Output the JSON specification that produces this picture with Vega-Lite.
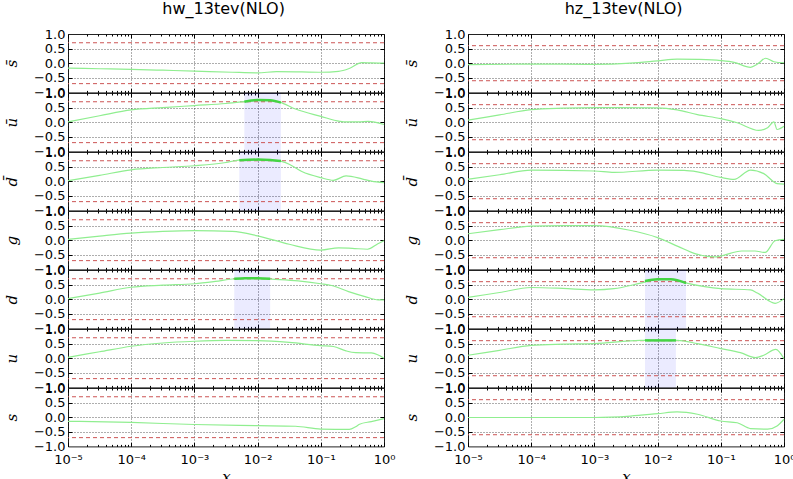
{
"$schema":"https://vega.github.io/schema/vega-lite/v6.json",
"background":"white",
"padding":{"left":3,"top":0,"right":0,"bottom":0},
"config":{"view":{"stroke":"#222","strokeWidth":1},"axis":{"labelFont":"DejaVu Sans","labelColor":"#000","titleColor":"#000","labelFontSize":13},"title":{"font":"DejaVu Sans","fontSize":16,"fontWeight":"normal","color":"#000","anchor":"middle"}},
"data":{"values":[
{"p":"hw","f":"*","k":"ref","y":0.7},{"p":"hw","f":"*","k":"ref","y":-0.7},{"p":"hz","f":"*","k":"ref","y":0.6},{"p":"hz","f":"*","k":"ref","y":-0.6},
{"p":"hw","f":"ub","k":"band","x":0.00617,"x2":0.0234},{"p":"hw","f":"db","k":"band","x":0.00513,"x2":0.0234},{"p":"hw","f":"d","k":"band","x":0.00427,"x2":0.0158},{"p":"hz","f":"d","k":"band","x":0.00631,"x2":0.0282},{"p":"hz","f":"u","k":"band","x":0.00631,"x2":0.0195},
{"p":"hw","f":"sb","k":"c","x":1e-5,"y":-0.17},{"p":"hw","f":"sb","k":"c","x":3.16e-5,"y":-0.19},{"p":"hw","f":"sb","k":"c","x":1e-4,"y":-0.21},{"p":"hw","f":"sb","k":"c","x":3.16e-4,"y":-0.24},{"p":"hw","f":"sb","k":"c","x":1e-3,"y":-0.27},{"p":"hw","f":"sb","k":"c","x":3.98e-3,"y":-0.31},{"p":"hw","f":"sb","k":"c","x":0.01,"y":-0.33},{"p":"hw","f":"sb","k":"c","x":0.02,"y":-0.29},{"p":"hw","f":"sb","k":"c","x":0.0501,"y":-0.30},{"p":"hw","f":"sb","k":"c","x":0.1,"y":-0.31},{"p":"hw","f":"sb","k":"c","x":0.191,"y":-0.28},{"p":"hw","f":"sb","k":"c","x":0.282,"y":-0.18},{"p":"hw","f":"sb","k":"c","x":0.447,"y":0.02},{"p":"hw","f":"sb","k":"c","x":0.631,"y":0.01},{"p":"hw","f":"sb","k":"c","x":1,"y":0.0},
{"p":"hw","f":"ub","k":"c","x":1e-5,"y":0.01},{"p":"hw","f":"ub","k":"c","x":3.16e-5,"y":0.22},{"p":"hw","f":"ub","k":"c","x":1e-4,"y":0.42},{"p":"hw","f":"ub","k":"c","x":3.16e-4,"y":0.50},{"p":"hw","f":"ub","k":"c","x":1e-3,"y":0.57},{"p":"hw","f":"ub","k":"c","x":3.16e-3,"y":0.64},{"p":"hw","f":"ub","k":"c","x":6.31e-3,"y":0.71},{"p":"hw","f":"ub","k":"c","x":0.01,"y":0.76},{"p":"hw","f":"ub","k":"c","x":0.0158,"y":0.75},{"p":"hw","f":"ub","k":"c","x":0.0224,"y":0.69},{"p":"hw","f":"ub","k":"c","x":0.0398,"y":0.45},{"p":"hw","f":"ub","k":"c","x":0.1,"y":0.20},{"p":"hw","f":"ub","k":"c","x":0.2,"y":0.03},{"p":"hw","f":"ub","k":"c","x":0.251,"y":0.01},{"p":"hw","f":"ub","k":"c","x":0.398,"y":0.01},{"p":"hw","f":"ub","k":"c","x":0.562,"y":0.03},{"p":"hw","f":"ub","k":"c","x":1,"y":-0.08},
{"p":"hw","f":"ub","k":"h","x":0.00617,"y":0.70},{"p":"hw","f":"ub","k":"h","x":0.00794,"y":0.74},{"p":"hw","f":"ub","k":"h","x":0.01,"y":0.76},{"p":"hw","f":"ub","k":"h","x":0.0158,"y":0.75},{"p":"hw","f":"ub","k":"h","x":0.0234,"y":0.67},
{"p":"hw","f":"db","k":"c","x":1e-5,"y":0.02},{"p":"hw","f":"db","k":"c","x":3.16e-5,"y":0.20},{"p":"hw","f":"db","k":"c","x":1e-4,"y":0.39},{"p":"hw","f":"db","k":"c","x":3.16e-4,"y":0.47},{"p":"hw","f":"db","k":"c","x":1e-3,"y":0.53},{"p":"hw","f":"db","k":"c","x":3.16e-3,"y":0.64},{"p":"hw","f":"db","k":"c","x":5.01e-3,"y":0.72},{"p":"hw","f":"db","k":"c","x":0.01,"y":0.74},{"p":"hw","f":"db","k":"c","x":0.02,"y":0.71},{"p":"hw","f":"db","k":"c","x":0.0316,"y":0.58},{"p":"hw","f":"db","k":"c","x":0.0501,"y":0.33},{"p":"hw","f":"db","k":"c","x":0.1,"y":0.12},{"p":"hw","f":"db","k":"c","x":0.158,"y":0.03},{"p":"hw","f":"db","k":"c","x":0.251,"y":0.18},{"p":"hw","f":"db","k":"c","x":0.447,"y":0.08},{"p":"hw","f":"db","k":"c","x":0.631,"y":0.0},{"p":"hw","f":"db","k":"c","x":1,"y":-0.05},
{"p":"hw","f":"db","k":"h","x":0.00513,"y":0.72},{"p":"hw","f":"db","k":"h","x":0.01,"y":0.74},{"p":"hw","f":"db","k":"h","x":0.0158,"y":0.73},{"p":"hw","f":"db","k":"h","x":0.0234,"y":0.69},
{"p":"hw","f":"g","k":"c","x":1e-5,"y":0.03},{"p":"hw","f":"g","k":"c","x":3.16e-5,"y":0.14},{"p":"hw","f":"g","k":"c","x":1e-4,"y":0.24},{"p":"hw","f":"g","k":"c","x":3.16e-4,"y":0.30},{"p":"hw","f":"g","k":"c","x":1e-3,"y":0.33},{"p":"hw","f":"g","k":"c","x":3.98e-3,"y":0.30},{"p":"hw","f":"g","k":"c","x":0.01,"y":0.15},{"p":"hw","f":"g","k":"c","x":0.0316,"y":-0.14},{"p":"hw","f":"g","k":"c","x":0.1,"y":-0.34},{"p":"hw","f":"g","k":"c","x":0.191,"y":-0.26},{"p":"hw","f":"g","k":"c","x":0.316,"y":-0.28},{"p":"hw","f":"g","k":"c","x":0.55,"y":-0.31},{"p":"hw","f":"g","k":"c","x":0.8,"y":-0.12},{"p":"hw","f":"g","k":"c","x":1,"y":-0.02},
{"p":"hw","f":"d","k":"c","x":1e-5,"y":0.02},{"p":"hw","f":"d","k":"c","x":3.16e-5,"y":0.21},{"p":"hw","f":"d","k":"c","x":1e-4,"y":0.41},{"p":"hw","f":"d","k":"c","x":3.16e-4,"y":0.48},{"p":"hw","f":"d","k":"c","x":1e-3,"y":0.53},{"p":"hw","f":"d","k":"c","x":2.14e-3,"y":0.61},{"p":"hw","f":"d","k":"c","x":4.37e-3,"y":0.70},{"p":"hw","f":"d","k":"c","x":0.01,"y":0.72},{"p":"hw","f":"d","k":"c","x":0.0166,"y":0.69},{"p":"hw","f":"d","k":"c","x":0.0437,"y":0.63},{"p":"hw","f":"d","k":"c","x":0.1,"y":0.53},{"p":"hw","f":"d","k":"c","x":0.148,"y":0.47},{"p":"hw","f":"d","k":"c","x":0.275,"y":0.26},{"p":"hw","f":"d","k":"c","x":0.501,"y":0.09},{"p":"hw","f":"d","k":"c","x":0.813,"y":-0.02},{"p":"hw","f":"d","k":"c","x":1,"y":-0.02},
{"p":"hw","f":"d","k":"h","x":0.00427,"y":0.70},{"p":"hw","f":"d","k":"h","x":0.00631,"y":0.72},{"p":"hw","f":"d","k":"h","x":0.01,"y":0.72},{"p":"hw","f":"d","k":"h","x":0.0158,"y":0.70},
{"p":"hw","f":"u","k":"c","x":1e-5,"y":0.03},{"p":"hw","f":"u","k":"c","x":3.16e-5,"y":0.22},{"p":"hw","f":"u","k":"c","x":1e-4,"y":0.41},{"p":"hw","f":"u","k":"c","x":3.16e-4,"y":0.52},{"p":"hw","f":"u","k":"c","x":1e-3,"y":0.58},{"p":"hw","f":"u","k":"c","x":3.16e-3,"y":0.61},{"p":"hw","f":"u","k":"c","x":0.01,"y":0.60},{"p":"hw","f":"u","k":"c","x":0.0316,"y":0.54},{"p":"hw","f":"u","k":"c","x":0.1,"y":0.43},{"p":"hw","f":"u","k":"c","x":0.158,"y":0.40},{"p":"hw","f":"u","k":"c","x":0.251,"y":0.25},{"p":"hw","f":"u","k":"c","x":0.355,"y":0.19},{"p":"hw","f":"u","k":"c","x":0.631,"y":0.18},{"p":"hw","f":"u","k":"c","x":0.794,"y":0.12},{"p":"hw","f":"u","k":"c","x":1,"y":0.0},
{"p":"hw","f":"s","k":"c","x":1e-5,"y":-0.14},{"p":"hw","f":"s","k":"c","x":1e-4,"y":-0.18},{"p":"hw","f":"s","k":"c","x":1e-3,"y":-0.25},{"p":"hw","f":"s","k":"c","x":0.01,"y":-0.29},{"p":"hw","f":"s","k":"c","x":0.0398,"y":-0.31},{"p":"hw","f":"s","k":"c","x":0.1,"y":-0.41},{"p":"hw","f":"s","k":"c","x":0.282,"y":-0.42},{"p":"hw","f":"s","k":"c","x":0.355,"y":-0.33},{"p":"hw","f":"s","k":"c","x":0.41,"y":-0.24},{"p":"hw","f":"s","k":"c","x":0.631,"y":-0.15},{"p":"hw","f":"s","k":"c","x":1,"y":-0.05},
{"p":"hz","f":"sb","k":"c","x":1e-5,"y":-0.05},{"p":"hz","f":"sb","k":"c","x":1e-4,"y":-0.03},{"p":"hz","f":"sb","k":"c","x":1e-3,"y":-0.04},{"p":"hz","f":"sb","k":"c","x":3.72e-3,"y":0.0},{"p":"hz","f":"sb","k":"c","x":0.01,"y":0.08},{"p":"hz","f":"sb","k":"c","x":0.0204,"y":0.14},{"p":"hz","f":"sb","k":"c","x":0.0427,"y":0.13},{"p":"hz","f":"sb","k":"c","x":0.1,"y":0.09},{"p":"hz","f":"sb","k":"c","x":0.162,"y":0.03},{"p":"hz","f":"sb","k":"c","x":0.295,"y":-0.14},{"p":"hz","f":"sb","k":"c","x":0.38,"y":-0.03},{"p":"hz","f":"sb","k":"c","x":0.513,"y":0.17},{"p":"hz","f":"sb","k":"c","x":0.692,"y":0.05},{"p":"hz","f":"sb","k":"c","x":1,"y":0.01},
{"p":"hz","f":"ub","k":"c","x":1e-5,"y":0.07},{"p":"hz","f":"ub","k":"c","x":3.16e-5,"y":0.25},{"p":"hz","f":"ub","k":"c","x":1e-4,"y":0.43},{"p":"hz","f":"ub","k":"c","x":3.16e-4,"y":0.48},{"p":"hz","f":"ub","k":"c","x":1e-3,"y":0.50},{"p":"hz","f":"ub","k":"c","x":0.01,"y":0.49},{"p":"hz","f":"ub","k":"c","x":0.0204,"y":0.42},{"p":"hz","f":"ub","k":"c","x":0.0427,"y":0.26},{"p":"hz","f":"ub","k":"c","x":0.1,"y":0.12},{"p":"hz","f":"ub","k":"c","x":0.182,"y":-0.02},{"p":"hz","f":"ub","k":"c","x":0.398,"y":-0.28},{"p":"hz","f":"ub","k":"c","x":0.55,"y":-0.19},{"p":"hz","f":"ub","k":"c","x":0.692,"y":0.01},{"p":"hz","f":"ub","k":"c","x":0.776,"y":-0.25},{"p":"hz","f":"ub","k":"c","x":1,"y":-0.14},
{"p":"hz","f":"db","k":"c","x":1e-5,"y":0.07},{"p":"hz","f":"db","k":"c","x":3.16e-5,"y":0.22},{"p":"hz","f":"db","k":"c","x":1e-4,"y":0.38},{"p":"hz","f":"db","k":"c","x":1e-3,"y":0.35},{"p":"hz","f":"db","k":"c","x":2.04e-3,"y":0.30},{"p":"hz","f":"db","k":"c","x":0.01,"y":0.38},{"p":"hz","f":"db","k":"c","x":0.0263,"y":0.37},{"p":"hz","f":"db","k":"c","x":0.0427,"y":0.32},{"p":"hz","f":"db","k":"c","x":0.1,"y":0.13},{"p":"hz","f":"db","k":"c","x":0.162,"y":0.06},{"p":"hz","f":"db","k":"c","x":0.295,"y":0.38},{"p":"hz","f":"db","k":"c","x":0.479,"y":0.26},{"p":"hz","f":"db","k":"c","x":0.776,"y":-0.08},{"p":"hz","f":"db","k":"c","x":1,"y":-0.10},
{"p":"hz","f":"g","k":"c","x":1e-5,"y":0.22},{"p":"hz","f":"g","k":"c","x":3.16e-5,"y":0.36},{"p":"hz","f":"g","k":"c","x":1e-4,"y":0.48},{"p":"hz","f":"g","k":"c","x":3.16e-4,"y":0.50},{"p":"hz","f":"g","k":"c","x":1e-3,"y":0.50},{"p":"hz","f":"g","k":"c","x":3.47e-3,"y":0.35},{"p":"hz","f":"g","k":"c","x":0.01,"y":0.09},{"p":"hz","f":"g","k":"c","x":0.0214,"y":-0.22},{"p":"hz","f":"g","k":"c","x":0.0389,"y":-0.46},{"p":"hz","f":"g","k":"c","x":0.0813,"y":-0.57},{"p":"hz","f":"g","k":"c","x":0.1,"y":-0.54},{"p":"hz","f":"g","k":"c","x":0.214,"y":-0.37},{"p":"hz","f":"g","k":"c","x":0.347,"y":-0.37},{"p":"hz","f":"g","k":"c","x":0.501,"y":-0.42},{"p":"hz","f":"g","k":"c","x":0.724,"y":-0.02},{"p":"hz","f":"g","k":"c","x":1,"y":0.03},
{"p":"hz","f":"d","k":"c","x":1e-5,"y":0.06},{"p":"hz","f":"d","k":"c","x":3.16e-5,"y":0.23},{"p":"hz","f":"d","k":"c","x":1e-4,"y":0.40},{"p":"hz","f":"d","k":"c","x":3.16e-4,"y":0.37},{"p":"hz","f":"d","k":"c","x":1e-3,"y":0.32},{"p":"hz","f":"d","k":"c","x":2.04e-3,"y":0.36},{"p":"hz","f":"d","k":"c","x":5.37e-3,"y":0.55},{"p":"hz","f":"d","k":"c","x":0.01,"y":0.68},{"p":"hz","f":"d","k":"c","x":0.0162,"y":0.68},{"p":"hz","f":"d","k":"c","x":0.0263,"y":0.57},{"p":"hz","f":"d","k":"c","x":0.1,"y":0.36},{"p":"hz","f":"d","k":"c","x":0.295,"y":0.32},{"p":"hz","f":"d","k":"c","x":0.38,"y":0.21},{"p":"hz","f":"d","k":"c","x":0.724,"y":-0.14},{"p":"hz","f":"d","k":"c","x":1,"y":0.02},
{"p":"hz","f":"d","k":"h","x":0.00631,"y":0.62},{"p":"hz","f":"d","k":"h","x":0.01,"y":0.68},{"p":"hz","f":"d","k":"h","x":0.0162,"y":0.68},{"p":"hz","f":"d","k":"h","x":0.0282,"y":0.55},
{"p":"hz","f":"u","k":"c","x":1e-5,"y":0.10},{"p":"hz","f":"u","k":"c","x":3.16e-5,"y":0.27},{"p":"hz","f":"u","k":"c","x":1e-4,"y":0.44},{"p":"hz","f":"u","k":"c","x":3.16e-4,"y":0.48},{"p":"hz","f":"u","k":"c","x":1e-3,"y":0.50},{"p":"hz","f":"u","k":"c","x":5.37e-3,"y":0.61},{"p":"hz","f":"u","k":"c","x":0.01,"y":0.61},{"p":"hz","f":"u","k":"c","x":0.0204,"y":0.61},{"p":"hz","f":"u","k":"c","x":0.0427,"y":0.50},{"p":"hz","f":"u","k":"c","x":0.1,"y":0.33},{"p":"hz","f":"u","k":"c","x":0.204,"y":0.19},{"p":"hz","f":"u","k":"c","x":0.355,"y":0.02},{"p":"hz","f":"u","k":"c","x":0.479,"y":0.10},{"p":"hz","f":"u","k":"c","x":0.741,"y":0.30},{"p":"hz","f":"u","k":"c","x":1,"y":-0.02},
{"p":"hz","f":"u","k":"h","x":0.00631,"y":0.61},{"p":"hz","f":"u","k":"h","x":0.01,"y":0.61},{"p":"hz","f":"u","k":"h","x":0.0195,"y":0.61},
{"p":"hz","f":"s","k":"c","x":1e-5,"y":-0.01},{"p":"hz","f":"s","k":"c","x":1e-4,"y":-0.01},{"p":"hz","f":"s","k":"c","x":1e-3,"y":-0.01},{"p":"hz","f":"s","k":"c","x":3.72e-3,"y":0.04},{"p":"hz","f":"s","k":"c","x":0.01,"y":0.12},{"p":"hz","f":"s","k":"c","x":0.0204,"y":0.18},{"p":"hz","f":"s","k":"c","x":0.0427,"y":0.10},{"p":"hz","f":"s","k":"c","x":0.1,"y":-0.13},{"p":"hz","f":"s","k":"c","x":0.182,"y":-0.19},{"p":"hz","f":"s","k":"c","x":0.295,"y":-0.39},{"p":"hz","f":"s","k":"c","x":0.55,"y":-0.41},{"p":"hz","f":"s","k":"c","x":0.776,"y":-0.30},{"p":"hz","f":"s","k":"c","x":1,"y":-0.07}
]},
"spacing":7,
"hconcat":[
{"title":{"text":"hw_13tev(NLO)","frame":"bounds","anchor":"middle","dx":24,"offset":11},"spacing":0,"bounds":"flush","vconcat":[
{"width":316,"height":58.4,"transform":[{"filter":"datum.p=='hw'&&(datum.f=='sb'||datum.f=='*')"}],"resolve":{"axis":{"x":"independent","y":"independent"}},"layer":[
{"transform":[{"filter":"datum.k=='band'"}],"mark":{"type":"rect","color":"#0000ff","opacity":0.08},"encoding":{"x":{"field":"x","type":"quantitative","scale":{"type":"log","domain":[1e-5,1],"nice":false},"axis":{"orient":"top","values":[1e-5,2e-5,3e-5,4e-5,5e-5,6e-5,7e-5,8e-5,9e-5,1e-4,2e-4,3e-4,4e-4,5e-4,6e-4,7e-4,8e-4,9e-4,1e-3,2e-3,3e-3,4e-3,5e-3,6e-3,7e-3,8e-3,9e-3,0.01,0.02,0.03,0.04,0.05,0.06,0.07,0.08,0.09,0.1,0.2,0.3,0.4,0.5,0.6,0.7,0.8,0.9,1],"labels":false,"title":null,"domain":false,"grid":false,"tickColor":"#000","tickSize":{"condition":{"test":"abs(log(datum.value)/LN10-round(log(datum.value)/LN10))<0.001","value":-4},"value":-2}}},"x2":{"field":"x2"}}},
{"transform":[{"filter":"datum.k=='ref'"}],"mark":{"type":"rule","color":"#cc5555","strokeDash":[4,3],"strokeWidth":1},"encoding":{"y":{"field":"y","type":"quantitative","scale":{"domain":[-1,1],"nice":false,"zero":false},"axis":{"orient":"right","values":[-0.5,0,0.5],"labels":false,"title":null,"domain":false,"grid":false,"tickColor":"#000","tickSize":-4}}}},
{"transform":[{"filter":"datum.k=='c'"}],"mark":{"type":"line","color":"#90ee90","strokeWidth":1.2,"interpolate":"monotone"},"encoding":{"x":{"field":"x","type":"quantitative","scale":{"type":"log","domain":[1e-5,1],"nice":false},"axis":{"orient":"bottom","values":[1e-5,2e-5,3e-5,4e-5,5e-5,6e-5,7e-5,8e-5,9e-5,1e-4,2e-4,3e-4,4e-4,5e-4,6e-4,7e-4,8e-4,9e-4,1e-3,2e-3,3e-3,4e-3,5e-3,6e-3,7e-3,8e-3,9e-3,0.01,0.02,0.03,0.04,0.05,0.06,0.07,0.08,0.09,0.1,0.2,0.3,0.4,0.5,0.6,0.7,0.8,0.9,1],"labels":false,"title":null,"domain":false,"tickColor":"#000","tickSize":{"condition":{"test":"abs(log(datum.value)/LN10-round(log(datum.value)/LN10))<0.001","value":-4},"value":-2},"grid":true,"gridColor":"#000","gridDash":[1,2],"gridWidth":0.8,"gridOpacity":{"condition":{"test":"abs(log(datum.value)/LN10-round(log(datum.value)/LN10))<0.001","value":0.8},"value":0}}},"y":{"field":"y","type":"quantitative","scale":{"domain":[-1,1],"nice":false,"zero":false},"axis":{"values":[-1,-0.5,0,0.5,1],"format":".1f","labelOverlap":false,"labelFlush":false,"labelPadding":7,"domain":false,"tickColor":"#000","tickSize":-4,"tickOpacity":{"condition":{"test":"abs(datum.value)<0.9","value":1},"value":0},"grid":true,"gridColor":"#000","gridDash":[1,2],"gridWidth":0.8,"gridOpacity":{"condition":{"test":"abs(datum.value)<0.9","value":0.8},"value":0},"title":"s̄","titleFont":"DejaVu Serif","titleFontStyle":"italic","titleFontWeight":"normal","titleFontSize":15,"titlePadding":14}}}},
{"transform":[{"filter":"datum.k=='h'"}],"mark":{"type":"line","color":"#44d444","strokeWidth":2.5,"interpolate":"monotone"},"encoding":{"x":{"field":"x","type":"quantitative","scale":{"type":"log","domain":[1e-5,1],"nice":false},"axis":null},"y":{"field":"y","type":"quantitative","scale":{"domain":[-1,1],"nice":false,"zero":false},"axis":null}}}
]},
{"width":316,"height":58.4,"transform":[{"filter":"datum.p=='hw'&&(datum.f=='ub'||datum.f=='*')"}],"resolve":{"axis":{"x":"independent","y":"independent"}},"layer":[
{"transform":[{"filter":"datum.k=='band'"}],"mark":{"type":"rect","color":"#0000ff","opacity":0.08},"encoding":{"x":{"field":"x","type":"quantitative","scale":{"type":"log","domain":[1e-5,1],"nice":false},"axis":{"orient":"top","values":[1e-5,2e-5,3e-5,4e-5,5e-5,6e-5,7e-5,8e-5,9e-5,1e-4,2e-4,3e-4,4e-4,5e-4,6e-4,7e-4,8e-4,9e-4,1e-3,2e-3,3e-3,4e-3,5e-3,6e-3,7e-3,8e-3,9e-3,0.01,0.02,0.03,0.04,0.05,0.06,0.07,0.08,0.09,0.1,0.2,0.3,0.4,0.5,0.6,0.7,0.8,0.9,1],"labels":false,"title":null,"domain":false,"grid":false,"tickColor":"#000","tickSize":{"condition":{"test":"abs(log(datum.value)/LN10-round(log(datum.value)/LN10))<0.001","value":-4},"value":-2}}},"x2":{"field":"x2"}}},
{"transform":[{"filter":"datum.k=='ref'"}],"mark":{"type":"rule","color":"#cc5555","strokeDash":[4,3],"strokeWidth":1},"encoding":{"y":{"field":"y","type":"quantitative","scale":{"domain":[-1,1],"nice":false,"zero":false},"axis":{"orient":"right","values":[-0.5,0,0.5],"labels":false,"title":null,"domain":false,"grid":false,"tickColor":"#000","tickSize":-4}}}},
{"transform":[{"filter":"datum.k=='c'"}],"mark":{"type":"line","color":"#90ee90","strokeWidth":1.2,"interpolate":"monotone"},"encoding":{"x":{"field":"x","type":"quantitative","scale":{"type":"log","domain":[1e-5,1],"nice":false},"axis":{"orient":"bottom","values":[1e-5,2e-5,3e-5,4e-5,5e-5,6e-5,7e-5,8e-5,9e-5,1e-4,2e-4,3e-4,4e-4,5e-4,6e-4,7e-4,8e-4,9e-4,1e-3,2e-3,3e-3,4e-3,5e-3,6e-3,7e-3,8e-3,9e-3,0.01,0.02,0.03,0.04,0.05,0.06,0.07,0.08,0.09,0.1,0.2,0.3,0.4,0.5,0.6,0.7,0.8,0.9,1],"labels":false,"title":null,"domain":false,"tickColor":"#000","tickSize":{"condition":{"test":"abs(log(datum.value)/LN10-round(log(datum.value)/LN10))<0.001","value":-4},"value":-2},"grid":true,"gridColor":"#000","gridDash":[1,2],"gridWidth":0.8,"gridOpacity":{"condition":{"test":"abs(log(datum.value)/LN10-round(log(datum.value)/LN10))<0.001","value":0.8},"value":0}}},"y":{"field":"y","type":"quantitative","scale":{"domain":[-1,1],"nice":false,"zero":false},"axis":{"values":[-1,-0.5,0,0.5,1],"format":".1f","labelOverlap":false,"labelFlush":false,"labelPadding":7,"domain":false,"tickColor":"#000","tickSize":-4,"tickOpacity":{"condition":{"test":"abs(datum.value)<0.9","value":1},"value":0},"grid":true,"gridColor":"#000","gridDash":[1,2],"gridWidth":0.8,"gridOpacity":{"condition":{"test":"abs(datum.value)<0.9","value":0.8},"value":0},"title":"ū","titleFont":"DejaVu Serif","titleFontStyle":"italic","titleFontWeight":"normal","titleFontSize":15,"titlePadding":14}}}},
{"transform":[{"filter":"datum.k=='h'"}],"mark":{"type":"line","color":"#44d444","strokeWidth":2.5,"interpolate":"monotone"},"encoding":{"x":{"field":"x","type":"quantitative","scale":{"type":"log","domain":[1e-5,1],"nice":false},"axis":null},"y":{"field":"y","type":"quantitative","scale":{"domain":[-1,1],"nice":false,"zero":false},"axis":null}}}
]},
{"width":316,"height":58.4,"transform":[{"filter":"datum.p=='hw'&&(datum.f=='db'||datum.f=='*')"}],"resolve":{"axis":{"x":"independent","y":"independent"}},"layer":[
{"transform":[{"filter":"datum.k=='band'"}],"mark":{"type":"rect","color":"#0000ff","opacity":0.08},"encoding":{"x":{"field":"x","type":"quantitative","scale":{"type":"log","domain":[1e-5,1],"nice":false},"axis":{"orient":"top","values":[1e-5,2e-5,3e-5,4e-5,5e-5,6e-5,7e-5,8e-5,9e-5,1e-4,2e-4,3e-4,4e-4,5e-4,6e-4,7e-4,8e-4,9e-4,1e-3,2e-3,3e-3,4e-3,5e-3,6e-3,7e-3,8e-3,9e-3,0.01,0.02,0.03,0.04,0.05,0.06,0.07,0.08,0.09,0.1,0.2,0.3,0.4,0.5,0.6,0.7,0.8,0.9,1],"labels":false,"title":null,"domain":false,"grid":false,"tickColor":"#000","tickSize":{"condition":{"test":"abs(log(datum.value)/LN10-round(log(datum.value)/LN10))<0.001","value":-4},"value":-2}}},"x2":{"field":"x2"}}},
{"transform":[{"filter":"datum.k=='ref'"}],"mark":{"type":"rule","color":"#cc5555","strokeDash":[4,3],"strokeWidth":1},"encoding":{"y":{"field":"y","type":"quantitative","scale":{"domain":[-1,1],"nice":false,"zero":false},"axis":{"orient":"right","values":[-0.5,0,0.5],"labels":false,"title":null,"domain":false,"grid":false,"tickColor":"#000","tickSize":-4}}}},
{"transform":[{"filter":"datum.k=='c'"}],"mark":{"type":"line","color":"#90ee90","strokeWidth":1.2,"interpolate":"monotone"},"encoding":{"x":{"field":"x","type":"quantitative","scale":{"type":"log","domain":[1e-5,1],"nice":false},"axis":{"orient":"bottom","values":[1e-5,2e-5,3e-5,4e-5,5e-5,6e-5,7e-5,8e-5,9e-5,1e-4,2e-4,3e-4,4e-4,5e-4,6e-4,7e-4,8e-4,9e-4,1e-3,2e-3,3e-3,4e-3,5e-3,6e-3,7e-3,8e-3,9e-3,0.01,0.02,0.03,0.04,0.05,0.06,0.07,0.08,0.09,0.1,0.2,0.3,0.4,0.5,0.6,0.7,0.8,0.9,1],"labels":false,"title":null,"domain":false,"tickColor":"#000","tickSize":{"condition":{"test":"abs(log(datum.value)/LN10-round(log(datum.value)/LN10))<0.001","value":-4},"value":-2},"grid":true,"gridColor":"#000","gridDash":[1,2],"gridWidth":0.8,"gridOpacity":{"condition":{"test":"abs(log(datum.value)/LN10-round(log(datum.value)/LN10))<0.001","value":0.8},"value":0}}},"y":{"field":"y","type":"quantitative","scale":{"domain":[-1,1],"nice":false,"zero":false},"axis":{"values":[-1,-0.5,0,0.5,1],"format":".1f","labelOverlap":false,"labelFlush":false,"labelPadding":7,"domain":false,"tickColor":"#000","tickSize":-4,"tickOpacity":{"condition":{"test":"abs(datum.value)<0.9","value":1},"value":0},"grid":true,"gridColor":"#000","gridDash":[1,2],"gridWidth":0.8,"gridOpacity":{"condition":{"test":"abs(datum.value)<0.9","value":0.8},"value":0},"title":"d̄","titleFont":"DejaVu Serif","titleFontStyle":"italic","titleFontWeight":"normal","titleFontSize":15,"titlePadding":14}}}},
{"transform":[{"filter":"datum.k=='h'"}],"mark":{"type":"line","color":"#44d444","strokeWidth":2.5,"interpolate":"monotone"},"encoding":{"x":{"field":"x","type":"quantitative","scale":{"type":"log","domain":[1e-5,1],"nice":false},"axis":null},"y":{"field":"y","type":"quantitative","scale":{"domain":[-1,1],"nice":false,"zero":false},"axis":null}}}
]},
{"width":316,"height":58.4,"transform":[{"filter":"datum.p=='hw'&&(datum.f=='g'||datum.f=='*')"}],"resolve":{"axis":{"x":"independent","y":"independent"}},"layer":[
{"transform":[{"filter":"datum.k=='band'"}],"mark":{"type":"rect","color":"#0000ff","opacity":0.08},"encoding":{"x":{"field":"x","type":"quantitative","scale":{"type":"log","domain":[1e-5,1],"nice":false},"axis":{"orient":"top","values":[1e-5,2e-5,3e-5,4e-5,5e-5,6e-5,7e-5,8e-5,9e-5,1e-4,2e-4,3e-4,4e-4,5e-4,6e-4,7e-4,8e-4,9e-4,1e-3,2e-3,3e-3,4e-3,5e-3,6e-3,7e-3,8e-3,9e-3,0.01,0.02,0.03,0.04,0.05,0.06,0.07,0.08,0.09,0.1,0.2,0.3,0.4,0.5,0.6,0.7,0.8,0.9,1],"labels":false,"title":null,"domain":false,"grid":false,"tickColor":"#000","tickSize":{"condition":{"test":"abs(log(datum.value)/LN10-round(log(datum.value)/LN10))<0.001","value":-4},"value":-2}}},"x2":{"field":"x2"}}},
{"transform":[{"filter":"datum.k=='ref'"}],"mark":{"type":"rule","color":"#cc5555","strokeDash":[4,3],"strokeWidth":1},"encoding":{"y":{"field":"y","type":"quantitative","scale":{"domain":[-1,1],"nice":false,"zero":false},"axis":{"orient":"right","values":[-0.5,0,0.5],"labels":false,"title":null,"domain":false,"grid":false,"tickColor":"#000","tickSize":-4}}}},
{"transform":[{"filter":"datum.k=='c'"}],"mark":{"type":"line","color":"#90ee90","strokeWidth":1.2,"interpolate":"monotone"},"encoding":{"x":{"field":"x","type":"quantitative","scale":{"type":"log","domain":[1e-5,1],"nice":false},"axis":{"orient":"bottom","values":[1e-5,2e-5,3e-5,4e-5,5e-5,6e-5,7e-5,8e-5,9e-5,1e-4,2e-4,3e-4,4e-4,5e-4,6e-4,7e-4,8e-4,9e-4,1e-3,2e-3,3e-3,4e-3,5e-3,6e-3,7e-3,8e-3,9e-3,0.01,0.02,0.03,0.04,0.05,0.06,0.07,0.08,0.09,0.1,0.2,0.3,0.4,0.5,0.6,0.7,0.8,0.9,1],"labels":false,"title":null,"domain":false,"tickColor":"#000","tickSize":{"condition":{"test":"abs(log(datum.value)/LN10-round(log(datum.value)/LN10))<0.001","value":-4},"value":-2},"grid":true,"gridColor":"#000","gridDash":[1,2],"gridWidth":0.8,"gridOpacity":{"condition":{"test":"abs(log(datum.value)/LN10-round(log(datum.value)/LN10))<0.001","value":0.8},"value":0}}},"y":{"field":"y","type":"quantitative","scale":{"domain":[-1,1],"nice":false,"zero":false},"axis":{"values":[-1,-0.5,0,0.5,1],"format":".1f","labelOverlap":false,"labelFlush":false,"labelPadding":7,"domain":false,"tickColor":"#000","tickSize":-4,"tickOpacity":{"condition":{"test":"abs(datum.value)<0.9","value":1},"value":0},"grid":true,"gridColor":"#000","gridDash":[1,2],"gridWidth":0.8,"gridOpacity":{"condition":{"test":"abs(datum.value)<0.9","value":0.8},"value":0},"title":"g","titleFont":"DejaVu Serif","titleFontStyle":"italic","titleFontWeight":"normal","titleFontSize":15,"titlePadding":14}}}},
{"transform":[{"filter":"datum.k=='h'"}],"mark":{"type":"line","color":"#44d444","strokeWidth":2.5,"interpolate":"monotone"},"encoding":{"x":{"field":"x","type":"quantitative","scale":{"type":"log","domain":[1e-5,1],"nice":false},"axis":null},"y":{"field":"y","type":"quantitative","scale":{"domain":[-1,1],"nice":false,"zero":false},"axis":null}}}
]},
{"width":316,"height":58.4,"transform":[{"filter":"datum.p=='hw'&&(datum.f=='d'||datum.f=='*')"}],"resolve":{"axis":{"x":"independent","y":"independent"}},"layer":[
{"transform":[{"filter":"datum.k=='band'"}],"mark":{"type":"rect","color":"#0000ff","opacity":0.08},"encoding":{"x":{"field":"x","type":"quantitative","scale":{"type":"log","domain":[1e-5,1],"nice":false},"axis":{"orient":"top","values":[1e-5,2e-5,3e-5,4e-5,5e-5,6e-5,7e-5,8e-5,9e-5,1e-4,2e-4,3e-4,4e-4,5e-4,6e-4,7e-4,8e-4,9e-4,1e-3,2e-3,3e-3,4e-3,5e-3,6e-3,7e-3,8e-3,9e-3,0.01,0.02,0.03,0.04,0.05,0.06,0.07,0.08,0.09,0.1,0.2,0.3,0.4,0.5,0.6,0.7,0.8,0.9,1],"labels":false,"title":null,"domain":false,"grid":false,"tickColor":"#000","tickSize":{"condition":{"test":"abs(log(datum.value)/LN10-round(log(datum.value)/LN10))<0.001","value":-4},"value":-2}}},"x2":{"field":"x2"}}},
{"transform":[{"filter":"datum.k=='ref'"}],"mark":{"type":"rule","color":"#cc5555","strokeDash":[4,3],"strokeWidth":1},"encoding":{"y":{"field":"y","type":"quantitative","scale":{"domain":[-1,1],"nice":false,"zero":false},"axis":{"orient":"right","values":[-0.5,0,0.5],"labels":false,"title":null,"domain":false,"grid":false,"tickColor":"#000","tickSize":-4}}}},
{"transform":[{"filter":"datum.k=='c'"}],"mark":{"type":"line","color":"#90ee90","strokeWidth":1.2,"interpolate":"monotone"},"encoding":{"x":{"field":"x","type":"quantitative","scale":{"type":"log","domain":[1e-5,1],"nice":false},"axis":{"orient":"bottom","values":[1e-5,2e-5,3e-5,4e-5,5e-5,6e-5,7e-5,8e-5,9e-5,1e-4,2e-4,3e-4,4e-4,5e-4,6e-4,7e-4,8e-4,9e-4,1e-3,2e-3,3e-3,4e-3,5e-3,6e-3,7e-3,8e-3,9e-3,0.01,0.02,0.03,0.04,0.05,0.06,0.07,0.08,0.09,0.1,0.2,0.3,0.4,0.5,0.6,0.7,0.8,0.9,1],"labels":false,"title":null,"domain":false,"tickColor":"#000","tickSize":{"condition":{"test":"abs(log(datum.value)/LN10-round(log(datum.value)/LN10))<0.001","value":-4},"value":-2},"grid":true,"gridColor":"#000","gridDash":[1,2],"gridWidth":0.8,"gridOpacity":{"condition":{"test":"abs(log(datum.value)/LN10-round(log(datum.value)/LN10))<0.001","value":0.8},"value":0}}},"y":{"field":"y","type":"quantitative","scale":{"domain":[-1,1],"nice":false,"zero":false},"axis":{"values":[-1,-0.5,0,0.5,1],"format":".1f","labelOverlap":false,"labelFlush":false,"labelPadding":7,"domain":false,"tickColor":"#000","tickSize":-4,"tickOpacity":{"condition":{"test":"abs(datum.value)<0.9","value":1},"value":0},"grid":true,"gridColor":"#000","gridDash":[1,2],"gridWidth":0.8,"gridOpacity":{"condition":{"test":"abs(datum.value)<0.9","value":0.8},"value":0},"title":"d","titleFont":"DejaVu Serif","titleFontStyle":"italic","titleFontWeight":"normal","titleFontSize":15,"titlePadding":14}}}},
{"transform":[{"filter":"datum.k=='h'"}],"mark":{"type":"line","color":"#44d444","strokeWidth":2.5,"interpolate":"monotone"},"encoding":{"x":{"field":"x","type":"quantitative","scale":{"type":"log","domain":[1e-5,1],"nice":false},"axis":null},"y":{"field":"y","type":"quantitative","scale":{"domain":[-1,1],"nice":false,"zero":false},"axis":null}}}
]},
{"width":316,"height":58.4,"transform":[{"filter":"datum.p=='hw'&&(datum.f=='u'||datum.f=='*')"}],"resolve":{"axis":{"x":"independent","y":"independent"}},"layer":[
{"transform":[{"filter":"datum.k=='band'"}],"mark":{"type":"rect","color":"#0000ff","opacity":0.08},"encoding":{"x":{"field":"x","type":"quantitative","scale":{"type":"log","domain":[1e-5,1],"nice":false},"axis":{"orient":"top","values":[1e-5,2e-5,3e-5,4e-5,5e-5,6e-5,7e-5,8e-5,9e-5,1e-4,2e-4,3e-4,4e-4,5e-4,6e-4,7e-4,8e-4,9e-4,1e-3,2e-3,3e-3,4e-3,5e-3,6e-3,7e-3,8e-3,9e-3,0.01,0.02,0.03,0.04,0.05,0.06,0.07,0.08,0.09,0.1,0.2,0.3,0.4,0.5,0.6,0.7,0.8,0.9,1],"labels":false,"title":null,"domain":false,"grid":false,"tickColor":"#000","tickSize":{"condition":{"test":"abs(log(datum.value)/LN10-round(log(datum.value)/LN10))<0.001","value":-4},"value":-2}}},"x2":{"field":"x2"}}},
{"transform":[{"filter":"datum.k=='ref'"}],"mark":{"type":"rule","color":"#cc5555","strokeDash":[4,3],"strokeWidth":1},"encoding":{"y":{"field":"y","type":"quantitative","scale":{"domain":[-1,1],"nice":false,"zero":false},"axis":{"orient":"right","values":[-0.5,0,0.5],"labels":false,"title":null,"domain":false,"grid":false,"tickColor":"#000","tickSize":-4}}}},
{"transform":[{"filter":"datum.k=='c'"}],"mark":{"type":"line","color":"#90ee90","strokeWidth":1.2,"interpolate":"monotone"},"encoding":{"x":{"field":"x","type":"quantitative","scale":{"type":"log","domain":[1e-5,1],"nice":false},"axis":{"orient":"bottom","values":[1e-5,2e-5,3e-5,4e-5,5e-5,6e-5,7e-5,8e-5,9e-5,1e-4,2e-4,3e-4,4e-4,5e-4,6e-4,7e-4,8e-4,9e-4,1e-3,2e-3,3e-3,4e-3,5e-3,6e-3,7e-3,8e-3,9e-3,0.01,0.02,0.03,0.04,0.05,0.06,0.07,0.08,0.09,0.1,0.2,0.3,0.4,0.5,0.6,0.7,0.8,0.9,1],"labels":false,"title":null,"domain":false,"tickColor":"#000","tickSize":{"condition":{"test":"abs(log(datum.value)/LN10-round(log(datum.value)/LN10))<0.001","value":-4},"value":-2},"grid":true,"gridColor":"#000","gridDash":[1,2],"gridWidth":0.8,"gridOpacity":{"condition":{"test":"abs(log(datum.value)/LN10-round(log(datum.value)/LN10))<0.001","value":0.8},"value":0}}},"y":{"field":"y","type":"quantitative","scale":{"domain":[-1,1],"nice":false,"zero":false},"axis":{"values":[-1,-0.5,0,0.5,1],"format":".1f","labelOverlap":false,"labelFlush":false,"labelPadding":7,"domain":false,"tickColor":"#000","tickSize":-4,"tickOpacity":{"condition":{"test":"abs(datum.value)<0.9","value":1},"value":0},"grid":true,"gridColor":"#000","gridDash":[1,2],"gridWidth":0.8,"gridOpacity":{"condition":{"test":"abs(datum.value)<0.9","value":0.8},"value":0},"title":"u","titleFont":"DejaVu Serif","titleFontStyle":"italic","titleFontWeight":"normal","titleFontSize":15,"titlePadding":14}}}},
{"transform":[{"filter":"datum.k=='h'"}],"mark":{"type":"line","color":"#44d444","strokeWidth":2.5,"interpolate":"monotone"},"encoding":{"x":{"field":"x","type":"quantitative","scale":{"type":"log","domain":[1e-5,1],"nice":false},"axis":null},"y":{"field":"y","type":"quantitative","scale":{"domain":[-1,1],"nice":false,"zero":false},"axis":null}}}
]},
{"width":316,"height":58.4,"transform":[{"filter":"datum.p=='hw'&&(datum.f=='s'||datum.f=='*')"}],"resolve":{"axis":{"x":"independent","y":"independent"}},"layer":[
{"transform":[{"filter":"datum.k=='band'"}],"mark":{"type":"rect","color":"#0000ff","opacity":0.08},"encoding":{"x":{"field":"x","type":"quantitative","scale":{"type":"log","domain":[1e-5,1],"nice":false},"axis":{"orient":"top","values":[1e-5,2e-5,3e-5,4e-5,5e-5,6e-5,7e-5,8e-5,9e-5,1e-4,2e-4,3e-4,4e-4,5e-4,6e-4,7e-4,8e-4,9e-4,1e-3,2e-3,3e-3,4e-3,5e-3,6e-3,7e-3,8e-3,9e-3,0.01,0.02,0.03,0.04,0.05,0.06,0.07,0.08,0.09,0.1,0.2,0.3,0.4,0.5,0.6,0.7,0.8,0.9,1],"labels":false,"title":null,"domain":false,"grid":false,"tickColor":"#000","tickSize":{"condition":{"test":"abs(log(datum.value)/LN10-round(log(datum.value)/LN10))<0.001","value":-4},"value":-2}}},"x2":{"field":"x2"}}},
{"transform":[{"filter":"datum.k=='ref'"}],"mark":{"type":"rule","color":"#cc5555","strokeDash":[4,3],"strokeWidth":1},"encoding":{"y":{"field":"y","type":"quantitative","scale":{"domain":[-1,1],"nice":false,"zero":false},"axis":{"orient":"right","values":[-0.5,0,0.5],"labels":false,"title":null,"domain":false,"grid":false,"tickColor":"#000","tickSize":-4}}}},
{"transform":[{"filter":"datum.k=='c'"}],"mark":{"type":"line","color":"#90ee90","strokeWidth":1.2,"interpolate":"monotone"},"encoding":{"x":{"field":"x","type":"quantitative","scale":{"type":"log","domain":[1e-5,1],"nice":false},"axis":{"orient":"bottom","values":[1e-5,2e-5,3e-5,4e-5,5e-5,6e-5,7e-5,8e-5,9e-5,1e-4,2e-4,3e-4,4e-4,5e-4,6e-4,7e-4,8e-4,9e-4,1e-3,2e-3,3e-3,4e-3,5e-3,6e-3,7e-3,8e-3,9e-3,0.01,0.02,0.03,0.04,0.05,0.06,0.07,0.08,0.09,0.1,0.2,0.3,0.4,0.5,0.6,0.7,0.8,0.9,1],"labels":true,"labelExpr":"abs(log(datum.value)/LN10-round(log(datum.value)/LN10))<0.001 ? '10'+['⁻⁵','⁻⁴','⁻³','⁻²','⁻¹','⁰'][round(log(datum.value)/LN10)+5] : ''","labelFlush":false,"labelOverlap":false,"labelPadding":11,"title":"x","titleFont":"DejaVu Serif","titleFontStyle":"italic","titleFontWeight":"normal","titleFontSize":15,"titlePadding":1,"domain":false,"tickColor":"#000","tickSize":{"condition":{"test":"abs(log(datum.value)/LN10-round(log(datum.value)/LN10))<0.001","value":-4},"value":-2},"grid":true,"gridColor":"#000","gridDash":[1,2],"gridWidth":0.8,"gridOpacity":{"condition":{"test":"abs(log(datum.value)/LN10-round(log(datum.value)/LN10))<0.001","value":0.8},"value":0}}},"y":{"field":"y","type":"quantitative","scale":{"domain":[-1,1],"nice":false,"zero":false},"axis":{"values":[-1,-0.5,0,0.5,1],"format":".1f","labelOverlap":false,"labelFlush":false,"labelPadding":7,"domain":false,"tickColor":"#000","tickSize":-4,"tickOpacity":{"condition":{"test":"abs(datum.value)<0.9","value":1},"value":0},"grid":true,"gridColor":"#000","gridDash":[1,2],"gridWidth":0.8,"gridOpacity":{"condition":{"test":"abs(datum.value)<0.9","value":0.8},"value":0},"title":"s","titleFont":"DejaVu Serif","titleFontStyle":"italic","titleFontWeight":"normal","titleFontSize":15,"titlePadding":14}}}},
{"transform":[{"filter":"datum.k=='h'"}],"mark":{"type":"line","color":"#44d444","strokeWidth":2.5,"interpolate":"monotone"},"encoding":{"x":{"field":"x","type":"quantitative","scale":{"type":"log","domain":[1e-5,1],"nice":false},"axis":null},"y":{"field":"y","type":"quantitative","scale":{"domain":[-1,1],"nice":false,"zero":false},"axis":null}}}
]}
]},
{"title":{"text":"hz_13tev(NLO)","frame":"bounds","anchor":"middle","dx":24,"offset":11},"spacing":0,"bounds":"flush","vconcat":[
{"width":316,"height":58.4,"transform":[{"filter":"datum.p=='hz'&&(datum.f=='sb'||datum.f=='*')"}],"resolve":{"axis":{"x":"independent","y":"independent"}},"layer":[
{"transform":[{"filter":"datum.k=='band'"}],"mark":{"type":"rect","color":"#0000ff","opacity":0.08},"encoding":{"x":{"field":"x","type":"quantitative","scale":{"type":"log","domain":[1e-5,1],"nice":false},"axis":{"orient":"top","values":[1e-5,2e-5,3e-5,4e-5,5e-5,6e-5,7e-5,8e-5,9e-5,1e-4,2e-4,3e-4,4e-4,5e-4,6e-4,7e-4,8e-4,9e-4,1e-3,2e-3,3e-3,4e-3,5e-3,6e-3,7e-3,8e-3,9e-3,0.01,0.02,0.03,0.04,0.05,0.06,0.07,0.08,0.09,0.1,0.2,0.3,0.4,0.5,0.6,0.7,0.8,0.9,1],"labels":false,"title":null,"domain":false,"grid":false,"tickColor":"#000","tickSize":{"condition":{"test":"abs(log(datum.value)/LN10-round(log(datum.value)/LN10))<0.001","value":-4},"value":-2}}},"x2":{"field":"x2"}}},
{"transform":[{"filter":"datum.k=='ref'"}],"mark":{"type":"rule","color":"#cc5555","strokeDash":[4,3],"strokeWidth":1},"encoding":{"y":{"field":"y","type":"quantitative","scale":{"domain":[-1,1],"nice":false,"zero":false},"axis":{"orient":"right","values":[-0.5,0,0.5],"labels":false,"title":null,"domain":false,"grid":false,"tickColor":"#000","tickSize":-4}}}},
{"transform":[{"filter":"datum.k=='c'"}],"mark":{"type":"line","color":"#90ee90","strokeWidth":1.2,"interpolate":"monotone"},"encoding":{"x":{"field":"x","type":"quantitative","scale":{"type":"log","domain":[1e-5,1],"nice":false},"axis":{"orient":"bottom","values":[1e-5,2e-5,3e-5,4e-5,5e-5,6e-5,7e-5,8e-5,9e-5,1e-4,2e-4,3e-4,4e-4,5e-4,6e-4,7e-4,8e-4,9e-4,1e-3,2e-3,3e-3,4e-3,5e-3,6e-3,7e-3,8e-3,9e-3,0.01,0.02,0.03,0.04,0.05,0.06,0.07,0.08,0.09,0.1,0.2,0.3,0.4,0.5,0.6,0.7,0.8,0.9,1],"labels":false,"title":null,"domain":false,"tickColor":"#000","tickSize":{"condition":{"test":"abs(log(datum.value)/LN10-round(log(datum.value)/LN10))<0.001","value":-4},"value":-2},"grid":true,"gridColor":"#000","gridDash":[1,2],"gridWidth":0.8,"gridOpacity":{"condition":{"test":"abs(log(datum.value)/LN10-round(log(datum.value)/LN10))<0.001","value":0.8},"value":0}}},"y":{"field":"y","type":"quantitative","scale":{"domain":[-1,1],"nice":false,"zero":false},"axis":{"values":[-1,-0.5,0,0.5,1],"format":".1f","labelOverlap":false,"labelFlush":false,"labelPadding":7,"domain":false,"tickColor":"#000","tickSize":-4,"tickOpacity":{"condition":{"test":"abs(datum.value)<0.9","value":1},"value":0},"grid":true,"gridColor":"#000","gridDash":[1,2],"gridWidth":0.8,"gridOpacity":{"condition":{"test":"abs(datum.value)<0.9","value":0.8},"value":0},"title":"s̄","titleFont":"DejaVu Serif","titleFontStyle":"italic","titleFontWeight":"normal","titleFontSize":15,"titlePadding":14}}}},
{"transform":[{"filter":"datum.k=='h'"}],"mark":{"type":"line","color":"#44d444","strokeWidth":2.5,"interpolate":"monotone"},"encoding":{"x":{"field":"x","type":"quantitative","scale":{"type":"log","domain":[1e-5,1],"nice":false},"axis":null},"y":{"field":"y","type":"quantitative","scale":{"domain":[-1,1],"nice":false,"zero":false},"axis":null}}}
]},
{"width":316,"height":58.4,"transform":[{"filter":"datum.p=='hz'&&(datum.f=='ub'||datum.f=='*')"}],"resolve":{"axis":{"x":"independent","y":"independent"}},"layer":[
{"transform":[{"filter":"datum.k=='band'"}],"mark":{"type":"rect","color":"#0000ff","opacity":0.08},"encoding":{"x":{"field":"x","type":"quantitative","scale":{"type":"log","domain":[1e-5,1],"nice":false},"axis":{"orient":"top","values":[1e-5,2e-5,3e-5,4e-5,5e-5,6e-5,7e-5,8e-5,9e-5,1e-4,2e-4,3e-4,4e-4,5e-4,6e-4,7e-4,8e-4,9e-4,1e-3,2e-3,3e-3,4e-3,5e-3,6e-3,7e-3,8e-3,9e-3,0.01,0.02,0.03,0.04,0.05,0.06,0.07,0.08,0.09,0.1,0.2,0.3,0.4,0.5,0.6,0.7,0.8,0.9,1],"labels":false,"title":null,"domain":false,"grid":false,"tickColor":"#000","tickSize":{"condition":{"test":"abs(log(datum.value)/LN10-round(log(datum.value)/LN10))<0.001","value":-4},"value":-2}}},"x2":{"field":"x2"}}},
{"transform":[{"filter":"datum.k=='ref'"}],"mark":{"type":"rule","color":"#cc5555","strokeDash":[4,3],"strokeWidth":1},"encoding":{"y":{"field":"y","type":"quantitative","scale":{"domain":[-1,1],"nice":false,"zero":false},"axis":{"orient":"right","values":[-0.5,0,0.5],"labels":false,"title":null,"domain":false,"grid":false,"tickColor":"#000","tickSize":-4}}}},
{"transform":[{"filter":"datum.k=='c'"}],"mark":{"type":"line","color":"#90ee90","strokeWidth":1.2,"interpolate":"monotone"},"encoding":{"x":{"field":"x","type":"quantitative","scale":{"type":"log","domain":[1e-5,1],"nice":false},"axis":{"orient":"bottom","values":[1e-5,2e-5,3e-5,4e-5,5e-5,6e-5,7e-5,8e-5,9e-5,1e-4,2e-4,3e-4,4e-4,5e-4,6e-4,7e-4,8e-4,9e-4,1e-3,2e-3,3e-3,4e-3,5e-3,6e-3,7e-3,8e-3,9e-3,0.01,0.02,0.03,0.04,0.05,0.06,0.07,0.08,0.09,0.1,0.2,0.3,0.4,0.5,0.6,0.7,0.8,0.9,1],"labels":false,"title":null,"domain":false,"tickColor":"#000","tickSize":{"condition":{"test":"abs(log(datum.value)/LN10-round(log(datum.value)/LN10))<0.001","value":-4},"value":-2},"grid":true,"gridColor":"#000","gridDash":[1,2],"gridWidth":0.8,"gridOpacity":{"condition":{"test":"abs(log(datum.value)/LN10-round(log(datum.value)/LN10))<0.001","value":0.8},"value":0}}},"y":{"field":"y","type":"quantitative","scale":{"domain":[-1,1],"nice":false,"zero":false},"axis":{"values":[-1,-0.5,0,0.5,1],"format":".1f","labelOverlap":false,"labelFlush":false,"labelPadding":7,"domain":false,"tickColor":"#000","tickSize":-4,"tickOpacity":{"condition":{"test":"abs(datum.value)<0.9","value":1},"value":0},"grid":true,"gridColor":"#000","gridDash":[1,2],"gridWidth":0.8,"gridOpacity":{"condition":{"test":"abs(datum.value)<0.9","value":0.8},"value":0},"title":"ū","titleFont":"DejaVu Serif","titleFontStyle":"italic","titleFontWeight":"normal","titleFontSize":15,"titlePadding":14}}}},
{"transform":[{"filter":"datum.k=='h'"}],"mark":{"type":"line","color":"#44d444","strokeWidth":2.5,"interpolate":"monotone"},"encoding":{"x":{"field":"x","type":"quantitative","scale":{"type":"log","domain":[1e-5,1],"nice":false},"axis":null},"y":{"field":"y","type":"quantitative","scale":{"domain":[-1,1],"nice":false,"zero":false},"axis":null}}}
]},
{"width":316,"height":58.4,"transform":[{"filter":"datum.p=='hz'&&(datum.f=='db'||datum.f=='*')"}],"resolve":{"axis":{"x":"independent","y":"independent"}},"layer":[
{"transform":[{"filter":"datum.k=='band'"}],"mark":{"type":"rect","color":"#0000ff","opacity":0.08},"encoding":{"x":{"field":"x","type":"quantitative","scale":{"type":"log","domain":[1e-5,1],"nice":false},"axis":{"orient":"top","values":[1e-5,2e-5,3e-5,4e-5,5e-5,6e-5,7e-5,8e-5,9e-5,1e-4,2e-4,3e-4,4e-4,5e-4,6e-4,7e-4,8e-4,9e-4,1e-3,2e-3,3e-3,4e-3,5e-3,6e-3,7e-3,8e-3,9e-3,0.01,0.02,0.03,0.04,0.05,0.06,0.07,0.08,0.09,0.1,0.2,0.3,0.4,0.5,0.6,0.7,0.8,0.9,1],"labels":false,"title":null,"domain":false,"grid":false,"tickColor":"#000","tickSize":{"condition":{"test":"abs(log(datum.value)/LN10-round(log(datum.value)/LN10))<0.001","value":-4},"value":-2}}},"x2":{"field":"x2"}}},
{"transform":[{"filter":"datum.k=='ref'"}],"mark":{"type":"rule","color":"#cc5555","strokeDash":[4,3],"strokeWidth":1},"encoding":{"y":{"field":"y","type":"quantitative","scale":{"domain":[-1,1],"nice":false,"zero":false},"axis":{"orient":"right","values":[-0.5,0,0.5],"labels":false,"title":null,"domain":false,"grid":false,"tickColor":"#000","tickSize":-4}}}},
{"transform":[{"filter":"datum.k=='c'"}],"mark":{"type":"line","color":"#90ee90","strokeWidth":1.2,"interpolate":"monotone"},"encoding":{"x":{"field":"x","type":"quantitative","scale":{"type":"log","domain":[1e-5,1],"nice":false},"axis":{"orient":"bottom","values":[1e-5,2e-5,3e-5,4e-5,5e-5,6e-5,7e-5,8e-5,9e-5,1e-4,2e-4,3e-4,4e-4,5e-4,6e-4,7e-4,8e-4,9e-4,1e-3,2e-3,3e-3,4e-3,5e-3,6e-3,7e-3,8e-3,9e-3,0.01,0.02,0.03,0.04,0.05,0.06,0.07,0.08,0.09,0.1,0.2,0.3,0.4,0.5,0.6,0.7,0.8,0.9,1],"labels":false,"title":null,"domain":false,"tickColor":"#000","tickSize":{"condition":{"test":"abs(log(datum.value)/LN10-round(log(datum.value)/LN10))<0.001","value":-4},"value":-2},"grid":true,"gridColor":"#000","gridDash":[1,2],"gridWidth":0.8,"gridOpacity":{"condition":{"test":"abs(log(datum.value)/LN10-round(log(datum.value)/LN10))<0.001","value":0.8},"value":0}}},"y":{"field":"y","type":"quantitative","scale":{"domain":[-1,1],"nice":false,"zero":false},"axis":{"values":[-1,-0.5,0,0.5,1],"format":".1f","labelOverlap":false,"labelFlush":false,"labelPadding":7,"domain":false,"tickColor":"#000","tickSize":-4,"tickOpacity":{"condition":{"test":"abs(datum.value)<0.9","value":1},"value":0},"grid":true,"gridColor":"#000","gridDash":[1,2],"gridWidth":0.8,"gridOpacity":{"condition":{"test":"abs(datum.value)<0.9","value":0.8},"value":0},"title":"d̄","titleFont":"DejaVu Serif","titleFontStyle":"italic","titleFontWeight":"normal","titleFontSize":15,"titlePadding":14}}}},
{"transform":[{"filter":"datum.k=='h'"}],"mark":{"type":"line","color":"#44d444","strokeWidth":2.5,"interpolate":"monotone"},"encoding":{"x":{"field":"x","type":"quantitative","scale":{"type":"log","domain":[1e-5,1],"nice":false},"axis":null},"y":{"field":"y","type":"quantitative","scale":{"domain":[-1,1],"nice":false,"zero":false},"axis":null}}}
]},
{"width":316,"height":58.4,"transform":[{"filter":"datum.p=='hz'&&(datum.f=='g'||datum.f=='*')"}],"resolve":{"axis":{"x":"independent","y":"independent"}},"layer":[
{"transform":[{"filter":"datum.k=='band'"}],"mark":{"type":"rect","color":"#0000ff","opacity":0.08},"encoding":{"x":{"field":"x","type":"quantitative","scale":{"type":"log","domain":[1e-5,1],"nice":false},"axis":{"orient":"top","values":[1e-5,2e-5,3e-5,4e-5,5e-5,6e-5,7e-5,8e-5,9e-5,1e-4,2e-4,3e-4,4e-4,5e-4,6e-4,7e-4,8e-4,9e-4,1e-3,2e-3,3e-3,4e-3,5e-3,6e-3,7e-3,8e-3,9e-3,0.01,0.02,0.03,0.04,0.05,0.06,0.07,0.08,0.09,0.1,0.2,0.3,0.4,0.5,0.6,0.7,0.8,0.9,1],"labels":false,"title":null,"domain":false,"grid":false,"tickColor":"#000","tickSize":{"condition":{"test":"abs(log(datum.value)/LN10-round(log(datum.value)/LN10))<0.001","value":-4},"value":-2}}},"x2":{"field":"x2"}}},
{"transform":[{"filter":"datum.k=='ref'"}],"mark":{"type":"rule","color":"#cc5555","strokeDash":[4,3],"strokeWidth":1},"encoding":{"y":{"field":"y","type":"quantitative","scale":{"domain":[-1,1],"nice":false,"zero":false},"axis":{"orient":"right","values":[-0.5,0,0.5],"labels":false,"title":null,"domain":false,"grid":false,"tickColor":"#000","tickSize":-4}}}},
{"transform":[{"filter":"datum.k=='c'"}],"mark":{"type":"line","color":"#90ee90","strokeWidth":1.2,"interpolate":"monotone"},"encoding":{"x":{"field":"x","type":"quantitative","scale":{"type":"log","domain":[1e-5,1],"nice":false},"axis":{"orient":"bottom","values":[1e-5,2e-5,3e-5,4e-5,5e-5,6e-5,7e-5,8e-5,9e-5,1e-4,2e-4,3e-4,4e-4,5e-4,6e-4,7e-4,8e-4,9e-4,1e-3,2e-3,3e-3,4e-3,5e-3,6e-3,7e-3,8e-3,9e-3,0.01,0.02,0.03,0.04,0.05,0.06,0.07,0.08,0.09,0.1,0.2,0.3,0.4,0.5,0.6,0.7,0.8,0.9,1],"labels":false,"title":null,"domain":false,"tickColor":"#000","tickSize":{"condition":{"test":"abs(log(datum.value)/LN10-round(log(datum.value)/LN10))<0.001","value":-4},"value":-2},"grid":true,"gridColor":"#000","gridDash":[1,2],"gridWidth":0.8,"gridOpacity":{"condition":{"test":"abs(log(datum.value)/LN10-round(log(datum.value)/LN10))<0.001","value":0.8},"value":0}}},"y":{"field":"y","type":"quantitative","scale":{"domain":[-1,1],"nice":false,"zero":false},"axis":{"values":[-1,-0.5,0,0.5,1],"format":".1f","labelOverlap":false,"labelFlush":false,"labelPadding":7,"domain":false,"tickColor":"#000","tickSize":-4,"tickOpacity":{"condition":{"test":"abs(datum.value)<0.9","value":1},"value":0},"grid":true,"gridColor":"#000","gridDash":[1,2],"gridWidth":0.8,"gridOpacity":{"condition":{"test":"abs(datum.value)<0.9","value":0.8},"value":0},"title":"g","titleFont":"DejaVu Serif","titleFontStyle":"italic","titleFontWeight":"normal","titleFontSize":15,"titlePadding":14}}}},
{"transform":[{"filter":"datum.k=='h'"}],"mark":{"type":"line","color":"#44d444","strokeWidth":2.5,"interpolate":"monotone"},"encoding":{"x":{"field":"x","type":"quantitative","scale":{"type":"log","domain":[1e-5,1],"nice":false},"axis":null},"y":{"field":"y","type":"quantitative","scale":{"domain":[-1,1],"nice":false,"zero":false},"axis":null}}}
]},
{"width":316,"height":58.4,"transform":[{"filter":"datum.p=='hz'&&(datum.f=='d'||datum.f=='*')"}],"resolve":{"axis":{"x":"independent","y":"independent"}},"layer":[
{"transform":[{"filter":"datum.k=='band'"}],"mark":{"type":"rect","color":"#0000ff","opacity":0.08},"encoding":{"x":{"field":"x","type":"quantitative","scale":{"type":"log","domain":[1e-5,1],"nice":false},"axis":{"orient":"top","values":[1e-5,2e-5,3e-5,4e-5,5e-5,6e-5,7e-5,8e-5,9e-5,1e-4,2e-4,3e-4,4e-4,5e-4,6e-4,7e-4,8e-4,9e-4,1e-3,2e-3,3e-3,4e-3,5e-3,6e-3,7e-3,8e-3,9e-3,0.01,0.02,0.03,0.04,0.05,0.06,0.07,0.08,0.09,0.1,0.2,0.3,0.4,0.5,0.6,0.7,0.8,0.9,1],"labels":false,"title":null,"domain":false,"grid":false,"tickColor":"#000","tickSize":{"condition":{"test":"abs(log(datum.value)/LN10-round(log(datum.value)/LN10))<0.001","value":-4},"value":-2}}},"x2":{"field":"x2"}}},
{"transform":[{"filter":"datum.k=='ref'"}],"mark":{"type":"rule","color":"#cc5555","strokeDash":[4,3],"strokeWidth":1},"encoding":{"y":{"field":"y","type":"quantitative","scale":{"domain":[-1,1],"nice":false,"zero":false},"axis":{"orient":"right","values":[-0.5,0,0.5],"labels":false,"title":null,"domain":false,"grid":false,"tickColor":"#000","tickSize":-4}}}},
{"transform":[{"filter":"datum.k=='c'"}],"mark":{"type":"line","color":"#90ee90","strokeWidth":1.2,"interpolate":"monotone"},"encoding":{"x":{"field":"x","type":"quantitative","scale":{"type":"log","domain":[1e-5,1],"nice":false},"axis":{"orient":"bottom","values":[1e-5,2e-5,3e-5,4e-5,5e-5,6e-5,7e-5,8e-5,9e-5,1e-4,2e-4,3e-4,4e-4,5e-4,6e-4,7e-4,8e-4,9e-4,1e-3,2e-3,3e-3,4e-3,5e-3,6e-3,7e-3,8e-3,9e-3,0.01,0.02,0.03,0.04,0.05,0.06,0.07,0.08,0.09,0.1,0.2,0.3,0.4,0.5,0.6,0.7,0.8,0.9,1],"labels":false,"title":null,"domain":false,"tickColor":"#000","tickSize":{"condition":{"test":"abs(log(datum.value)/LN10-round(log(datum.value)/LN10))<0.001","value":-4},"value":-2},"grid":true,"gridColor":"#000","gridDash":[1,2],"gridWidth":0.8,"gridOpacity":{"condition":{"test":"abs(log(datum.value)/LN10-round(log(datum.value)/LN10))<0.001","value":0.8},"value":0}}},"y":{"field":"y","type":"quantitative","scale":{"domain":[-1,1],"nice":false,"zero":false},"axis":{"values":[-1,-0.5,0,0.5,1],"format":".1f","labelOverlap":false,"labelFlush":false,"labelPadding":7,"domain":false,"tickColor":"#000","tickSize":-4,"tickOpacity":{"condition":{"test":"abs(datum.value)<0.9","value":1},"value":0},"grid":true,"gridColor":"#000","gridDash":[1,2],"gridWidth":0.8,"gridOpacity":{"condition":{"test":"abs(datum.value)<0.9","value":0.8},"value":0},"title":"d","titleFont":"DejaVu Serif","titleFontStyle":"italic","titleFontWeight":"normal","titleFontSize":15,"titlePadding":14}}}},
{"transform":[{"filter":"datum.k=='h'"}],"mark":{"type":"line","color":"#44d444","strokeWidth":2.5,"interpolate":"monotone"},"encoding":{"x":{"field":"x","type":"quantitative","scale":{"type":"log","domain":[1e-5,1],"nice":false},"axis":null},"y":{"field":"y","type":"quantitative","scale":{"domain":[-1,1],"nice":false,"zero":false},"axis":null}}}
]},
{"width":316,"height":58.4,"transform":[{"filter":"datum.p=='hz'&&(datum.f=='u'||datum.f=='*')"}],"resolve":{"axis":{"x":"independent","y":"independent"}},"layer":[
{"transform":[{"filter":"datum.k=='band'"}],"mark":{"type":"rect","color":"#0000ff","opacity":0.08},"encoding":{"x":{"field":"x","type":"quantitative","scale":{"type":"log","domain":[1e-5,1],"nice":false},"axis":{"orient":"top","values":[1e-5,2e-5,3e-5,4e-5,5e-5,6e-5,7e-5,8e-5,9e-5,1e-4,2e-4,3e-4,4e-4,5e-4,6e-4,7e-4,8e-4,9e-4,1e-3,2e-3,3e-3,4e-3,5e-3,6e-3,7e-3,8e-3,9e-3,0.01,0.02,0.03,0.04,0.05,0.06,0.07,0.08,0.09,0.1,0.2,0.3,0.4,0.5,0.6,0.7,0.8,0.9,1],"labels":false,"title":null,"domain":false,"grid":false,"tickColor":"#000","tickSize":{"condition":{"test":"abs(log(datum.value)/LN10-round(log(datum.value)/LN10))<0.001","value":-4},"value":-2}}},"x2":{"field":"x2"}}},
{"transform":[{"filter":"datum.k=='ref'"}],"mark":{"type":"rule","color":"#cc5555","strokeDash":[4,3],"strokeWidth":1},"encoding":{"y":{"field":"y","type":"quantitative","scale":{"domain":[-1,1],"nice":false,"zero":false},"axis":{"orient":"right","values":[-0.5,0,0.5],"labels":false,"title":null,"domain":false,"grid":false,"tickColor":"#000","tickSize":-4}}}},
{"transform":[{"filter":"datum.k=='c'"}],"mark":{"type":"line","color":"#90ee90","strokeWidth":1.2,"interpolate":"monotone"},"encoding":{"x":{"field":"x","type":"quantitative","scale":{"type":"log","domain":[1e-5,1],"nice":false},"axis":{"orient":"bottom","values":[1e-5,2e-5,3e-5,4e-5,5e-5,6e-5,7e-5,8e-5,9e-5,1e-4,2e-4,3e-4,4e-4,5e-4,6e-4,7e-4,8e-4,9e-4,1e-3,2e-3,3e-3,4e-3,5e-3,6e-3,7e-3,8e-3,9e-3,0.01,0.02,0.03,0.04,0.05,0.06,0.07,0.08,0.09,0.1,0.2,0.3,0.4,0.5,0.6,0.7,0.8,0.9,1],"labels":false,"title":null,"domain":false,"tickColor":"#000","tickSize":{"condition":{"test":"abs(log(datum.value)/LN10-round(log(datum.value)/LN10))<0.001","value":-4},"value":-2},"grid":true,"gridColor":"#000","gridDash":[1,2],"gridWidth":0.8,"gridOpacity":{"condition":{"test":"abs(log(datum.value)/LN10-round(log(datum.value)/LN10))<0.001","value":0.8},"value":0}}},"y":{"field":"y","type":"quantitative","scale":{"domain":[-1,1],"nice":false,"zero":false},"axis":{"values":[-1,-0.5,0,0.5,1],"format":".1f","labelOverlap":false,"labelFlush":false,"labelPadding":7,"domain":false,"tickColor":"#000","tickSize":-4,"tickOpacity":{"condition":{"test":"abs(datum.value)<0.9","value":1},"value":0},"grid":true,"gridColor":"#000","gridDash":[1,2],"gridWidth":0.8,"gridOpacity":{"condition":{"test":"abs(datum.value)<0.9","value":0.8},"value":0},"title":"u","titleFont":"DejaVu Serif","titleFontStyle":"italic","titleFontWeight":"normal","titleFontSize":15,"titlePadding":14}}}},
{"transform":[{"filter":"datum.k=='h'"}],"mark":{"type":"line","color":"#44d444","strokeWidth":2.5,"interpolate":"monotone"},"encoding":{"x":{"field":"x","type":"quantitative","scale":{"type":"log","domain":[1e-5,1],"nice":false},"axis":null},"y":{"field":"y","type":"quantitative","scale":{"domain":[-1,1],"nice":false,"zero":false},"axis":null}}}
]},
{"width":316,"height":58.4,"transform":[{"filter":"datum.p=='hz'&&(datum.f=='s'||datum.f=='*')"}],"resolve":{"axis":{"x":"independent","y":"independent"}},"layer":[
{"transform":[{"filter":"datum.k=='band'"}],"mark":{"type":"rect","color":"#0000ff","opacity":0.08},"encoding":{"x":{"field":"x","type":"quantitative","scale":{"type":"log","domain":[1e-5,1],"nice":false},"axis":{"orient":"top","values":[1e-5,2e-5,3e-5,4e-5,5e-5,6e-5,7e-5,8e-5,9e-5,1e-4,2e-4,3e-4,4e-4,5e-4,6e-4,7e-4,8e-4,9e-4,1e-3,2e-3,3e-3,4e-3,5e-3,6e-3,7e-3,8e-3,9e-3,0.01,0.02,0.03,0.04,0.05,0.06,0.07,0.08,0.09,0.1,0.2,0.3,0.4,0.5,0.6,0.7,0.8,0.9,1],"labels":false,"title":null,"domain":false,"grid":false,"tickColor":"#000","tickSize":{"condition":{"test":"abs(log(datum.value)/LN10-round(log(datum.value)/LN10))<0.001","value":-4},"value":-2}}},"x2":{"field":"x2"}}},
{"transform":[{"filter":"datum.k=='ref'"}],"mark":{"type":"rule","color":"#cc5555","strokeDash":[4,3],"strokeWidth":1},"encoding":{"y":{"field":"y","type":"quantitative","scale":{"domain":[-1,1],"nice":false,"zero":false},"axis":{"orient":"right","values":[-0.5,0,0.5],"labels":false,"title":null,"domain":false,"grid":false,"tickColor":"#000","tickSize":-4}}}},
{"transform":[{"filter":"datum.k=='c'"}],"mark":{"type":"line","color":"#90ee90","strokeWidth":1.2,"interpolate":"monotone"},"encoding":{"x":{"field":"x","type":"quantitative","scale":{"type":"log","domain":[1e-5,1],"nice":false},"axis":{"orient":"bottom","values":[1e-5,2e-5,3e-5,4e-5,5e-5,6e-5,7e-5,8e-5,9e-5,1e-4,2e-4,3e-4,4e-4,5e-4,6e-4,7e-4,8e-4,9e-4,1e-3,2e-3,3e-3,4e-3,5e-3,6e-3,7e-3,8e-3,9e-3,0.01,0.02,0.03,0.04,0.05,0.06,0.07,0.08,0.09,0.1,0.2,0.3,0.4,0.5,0.6,0.7,0.8,0.9,1],"labels":true,"labelExpr":"abs(log(datum.value)/LN10-round(log(datum.value)/LN10))<0.001 ? '10'+['⁻⁵','⁻⁴','⁻³','⁻²','⁻¹','⁰'][round(log(datum.value)/LN10)+5] : ''","labelFlush":false,"labelOverlap":false,"labelPadding":11,"title":"x","titleFont":"DejaVu Serif","titleFontStyle":"italic","titleFontWeight":"normal","titleFontSize":15,"titlePadding":1,"domain":false,"tickColor":"#000","tickSize":{"condition":{"test":"abs(log(datum.value)/LN10-round(log(datum.value)/LN10))<0.001","value":-4},"value":-2},"grid":true,"gridColor":"#000","gridDash":[1,2],"gridWidth":0.8,"gridOpacity":{"condition":{"test":"abs(log(datum.value)/LN10-round(log(datum.value)/LN10))<0.001","value":0.8},"value":0}}},"y":{"field":"y","type":"quantitative","scale":{"domain":[-1,1],"nice":false,"zero":false},"axis":{"values":[-1,-0.5,0,0.5,1],"format":".1f","labelOverlap":false,"labelFlush":false,"labelPadding":7,"domain":false,"tickColor":"#000","tickSize":-4,"tickOpacity":{"condition":{"test":"abs(datum.value)<0.9","value":1},"value":0},"grid":true,"gridColor":"#000","gridDash":[1,2],"gridWidth":0.8,"gridOpacity":{"condition":{"test":"abs(datum.value)<0.9","value":0.8},"value":0},"title":"s","titleFont":"DejaVu Serif","titleFontStyle":"italic","titleFontWeight":"normal","titleFontSize":15,"titlePadding":14}}}},
{"transform":[{"filter":"datum.k=='h'"}],"mark":{"type":"line","color":"#44d444","strokeWidth":2.5,"interpolate":"monotone"},"encoding":{"x":{"field":"x","type":"quantitative","scale":{"type":"log","domain":[1e-5,1],"nice":false},"axis":null},"y":{"field":"y","type":"quantitative","scale":{"domain":[-1,1],"nice":false,"zero":false},"axis":null}}}
]}
]}
]
}
